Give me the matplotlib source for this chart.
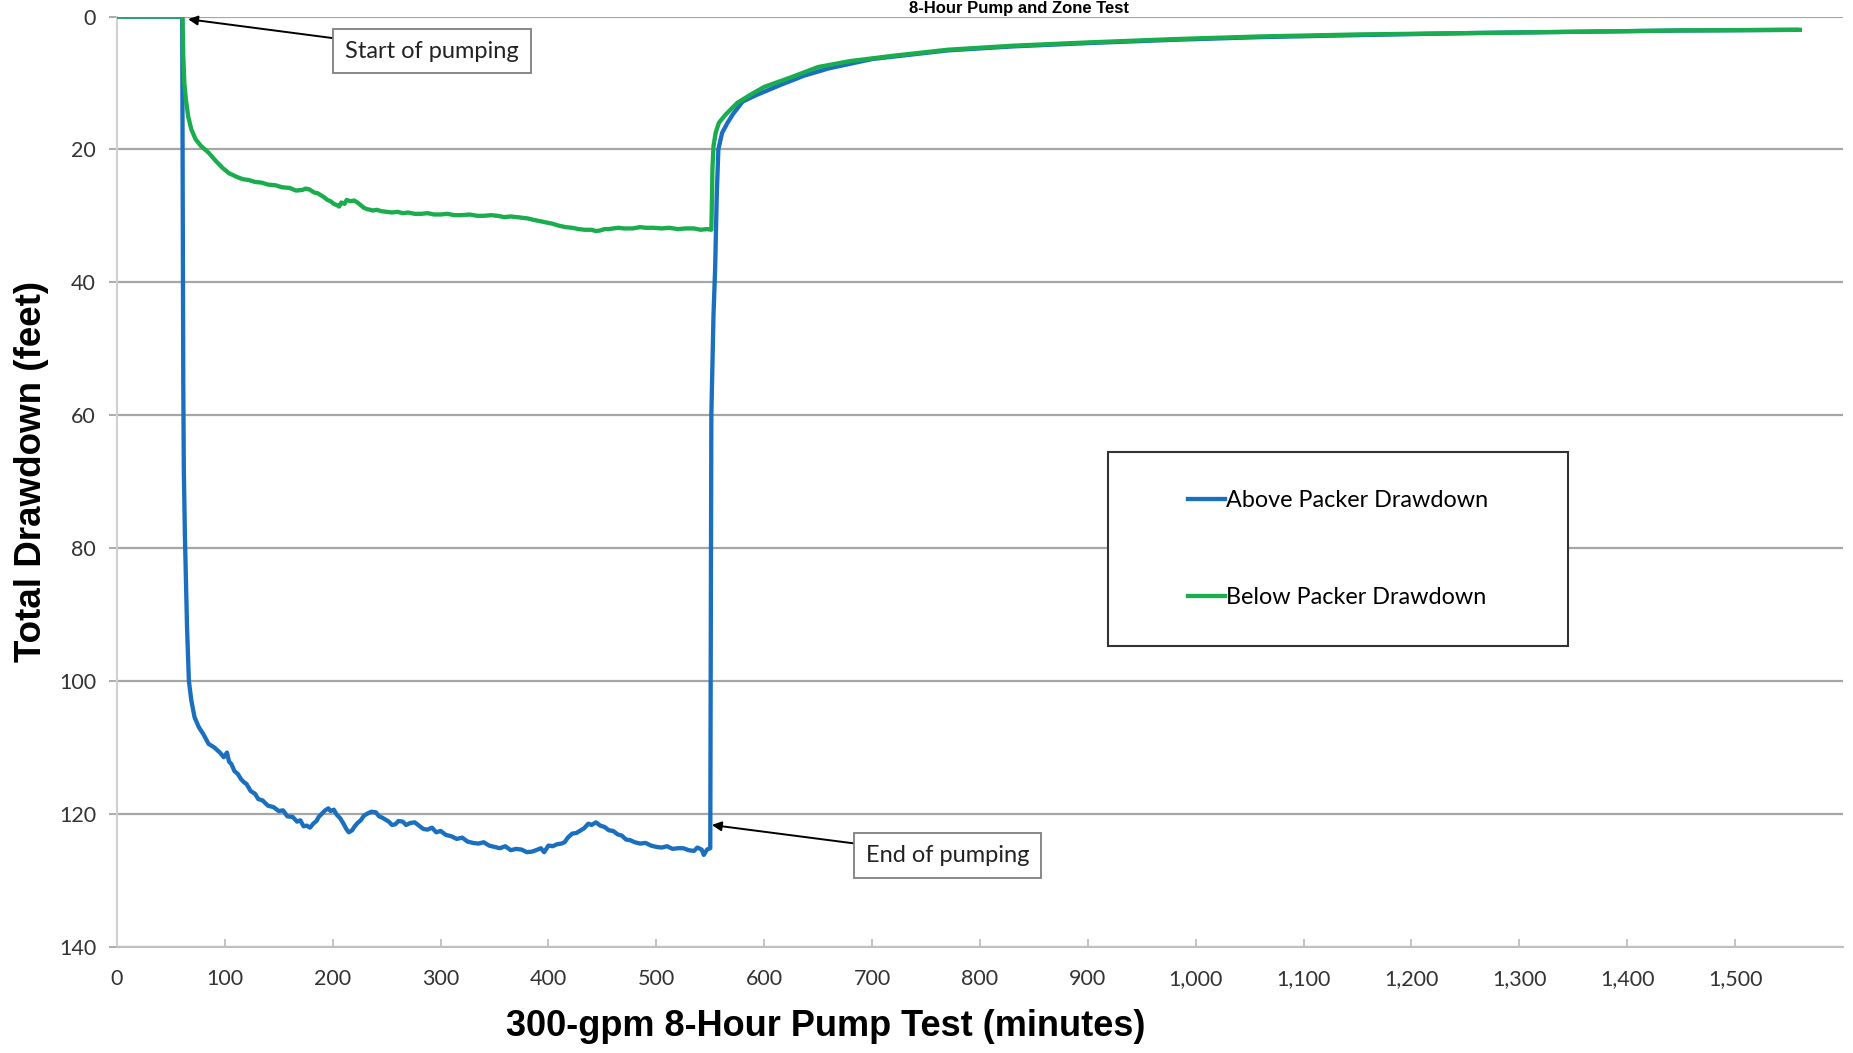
import matplotlib
matplotlib.use('Agg')
import matplotlib.pyplot as plt
from matplotlib.patches import Rectangle

# data (minutes, feet of drawdown)
above_t = [0, 60.5, 61, 61.5, 62, 63, 64, 65, 66.7, 69, 72, 76, 80, 85, 90, 95.5,
           99, 102, 104, 106, 109, 112, 115, 118, 120, 124, 128, 131, 135, 140, 145, 150,
           154, 158, 163, 167, 170, 173, 176, 179, 182, 185, 187, 190, 193, 196, 198, 201,
           204, 207, 210, 213, 215, 218, 220, 223, 226, 229, 232, 236, 240, 243, 246, 249,
           252, 255, 258, 261, 265, 268, 272, 276, 280, 284, 288, 292, 296, 300, 305, 310,
           315, 320, 325, 330, 335, 340, 345, 350, 355, 360, 365, 370, 375, 380, 385, 390,
           393, 396, 400, 404, 408, 412, 415, 418, 422, 426, 430, 433, 437, 440, 444, 448,
           452, 456, 460, 464, 468, 472, 476, 480, 485, 490, 495, 500, 505, 510, 515, 520,
           525, 530, 535, 538, 542, 544, 547, 550,
           551, 553, 554.5, 556, 557.5, 561, 566, 571, 580, 593, 615, 637, 660, 700,
           770, 830, 900, 980, 1060, 1150, 1250, 1350, 1450, 1557]
above_dd = [0, 0, 30, 55, 68, 78, 85, 92, 100, 103, 105.5, 107, 108, 109.5, 110, 110.8,
            111.5, 110.8, 112.2, 112.5, 113.6, 114, 114.8, 115.3, 115.5, 116.6, 117, 117.8, 118, 118.8, 119, 119.6,
            119.5, 120.4, 120.5, 121.2, 121, 121.9, 121.8, 122.1, 121.5, 121.1, 120.5, 120, 119.5, 119.2, 119.6, 119.4,
            120.2, 120.7, 121.5, 122.4, 122.8, 122.5, 122, 121.4, 121, 120.3, 120, 119.7, 119.8, 120.4, 120.6, 120.9,
            121.2, 121.7, 121.6, 121.1, 121.2, 121.7, 121.4, 121.3, 121.8, 122.3, 122.4, 122.1, 122.8, 122.6, 123.2, 123.4,
            123.8, 123.6, 124.2, 124.4, 124.5, 124.3, 124.8, 125, 125.2, 124.9, 125.5, 125.3, 125.4, 125.8, 125.7, 125.4,
            125.2, 125.8, 124.8, 124.9, 124.6, 124.5, 124.3, 123.6, 123, 122.9, 122.5, 122.2, 121.5, 121.7, 121.3, 121.8,
            122, 122.5, 122.6, 123.1, 123.3, 123.9, 124, 124.3, 124.5, 124.4, 124.8, 125, 125.1, 124.9, 125.3, 125.2,
            125.2, 125.5, 125.6, 125.1, 125.4, 126.2, 125.4, 125.2,
            60, 45, 38, 27, 20, 17.5, 16, 14.7, 12.8, 11.8, 10.3, 8.9, 7.8, 6.4,
            5.1, 4.5, 4.0, 3.5, 3.1, 2.8, 2.5, 2.3, 2.1, 2.0]

below_t = [0, 60.8, 61.5, 62.5, 64, 66, 69, 73, 78, 85, 92, 98,
           104, 108, 112, 117, 122, 128, 134, 140, 147, 153, 160, 166, 172, 175, 178, 180,
           183, 186, 189, 192, 195, 198, 201, 204, 206, 208, 211, 213, 216, 220, 223, 226,
           229, 232, 235, 237, 241, 245, 250, 255, 260, 265, 270, 276, 282, 288, 294, 300,
           306, 313, 320, 327, 334, 340, 347, 353, 359, 365, 371, 376, 381, 386, 392, 398,
           404, 410, 416, 422, 428, 434, 440, 444, 448, 452, 456, 460, 465, 470, 478, 485,
           490, 497, 505, 512, 520, 527, 535, 541, 547, 551,
           551.5, 552, 553, 555, 558, 564, 575, 587, 600, 624, 650, 680, 720, 770, 830,
           900, 980, 1060, 1150, 1250, 1350, 1450, 1560]
below_dd = [0, 0, 6, 10, 12.6, 15, 17, 18.5, 19.5, 20.5, 21.8, 22.8,
            23.6, 23.9, 24.2, 24.5, 24.6, 24.9, 25.0, 25.3, 25.4, 25.7, 25.8, 26.2, 26.1, 25.9, 26.0, 26.2,
            26.5, 26.6, 26.9, 27.2, 27.6, 27.8, 28.2, 28.4, 28.6, 28.0, 28.2, 27.6, 27.8, 27.7, 28.0, 28.4,
            28.8, 29.0, 29.1, 29.2, 29.1, 29.3, 29.4, 29.5, 29.4, 29.6, 29.5, 29.7, 29.7, 29.6, 29.8, 29.8,
            29.7, 29.9, 29.9, 29.8, 30.0, 30.0, 29.9, 30.0, 30.2, 30.1, 30.2, 30.3, 30.4, 30.6, 30.8, 31.0,
            31.2, 31.5, 31.7, 31.8, 32.0, 32.1, 32.1, 32.3, 32.2, 32.0, 32.0, 31.9, 31.8, 31.9, 31.9, 31.7,
            31.8, 31.8, 31.9, 31.8, 32.0, 31.9, 31.9, 32.1, 32.0, 32.1,
            28, 23, 19.5, 17.5, 16, 14.8, 13, 11.8, 10.6, 9.2, 7.6, 6.7, 5.9, 5.0, 4.4,
            3.9, 3.4, 3.0, 2.7, 2.5, 2.3, 2.1, 2.0]

x_ticks = list(range(0, 1501, 100))
y_ticks = list(range(0, 141, 20))

blue = '#1b6fbf'
green = '#1aad4e'
small_font = 'Lato'
bold_font = 'Liberation Sans'

fig = plt.figure(figsize=(18.53, 10.53), dpi=100)
ax = fig.add_axes([0.0631, 0.1011, 0.9315, 0.8832])

ax.plot(above_t, above_dd, color=blue, lw=3.1, label='Above Packer Drawdown', zorder=3)
ax.plot(below_t, below_dd, color=green, lw=3.1, label='Below Packer Drawdown', zorder=3)

ax.set_xlim(0, 1600)
ax.set_ylim(140, 0)
ax.set_xticks(x_ticks)
ax.set_xticklabels([f'{v:,}' for v in x_ticks], fontfamily=small_font, fontsize=15.5)
ax.set_yticks(y_ticks)
ax.set_yticklabels([str(v) for v in y_ticks], fontfamily=small_font, fontsize=15.5)

ax.grid(axis='y', color='#a6a6a6', lw=1.6)
ax.set_axisbelow(True)
ax.spines['top'].set_visible(False)
ax.spines['right'].set_visible(False)
ax.spines['left'].set_color('#d0d0d0')
ax.spines['left'].set_linewidth(1.5)
ax.spines['bottom'].set_color('#bfbfbf')
ax.spines['bottom'].set_linewidth(1.5)
ax.tick_params(axis='x', direction='in', length=6, width=1.3, color='#bfbfbf', pad=16, labelcolor='#333333')
ax.tick_params(axis='y', direction='out', length=6, width=1.3, color='#a6a6a6', pad=9, labelcolor='#333333')

# legend inside a fixed box
lx, ly, lw_, lh = 0.574, 0.3232, 0.2667, 0.2086
ax.add_patch(Rectangle((lx, ly), lw_, lh, transform=ax.transAxes, facecolor='white',
                       edgecolor='#333333', lw=1.5, zorder=4))
leg = ax.legend(loc='center', bbox_to_anchor=(lx + lw_ / 2, ly + lh / 2), frameon=False,
                labelspacing=3.25, handlelength=1.6, handletextpad=0.05,
                prop={'family': small_font, 'size': 16.8})
leg.set_zorder(5)

box = dict(boxstyle='square,pad=0.5', fc='white', ec='#7f7f7f', lw=1.3)
arrow = dict(arrowstyle='-|>', color='black', lw=1.4, mutation_scale=14, shrinkA=0, shrinkB=0)
ax.annotate('Start of pumping', xy=(66, 0.4), xytext=(292, 5.2), ha='center', va='center',
            fontfamily=small_font, fontsize=17, color='#222222', bbox=box, arrowprops=arrow, zorder=6)
ax.annotate('End of pumping', xy=(551.5, 121.7), xytext=(770, 126.3), ha='center', va='center',
            fontfamily=small_font, fontsize=17, color='#222222', bbox=box, arrowprops=arrow, zorder=6)

fig.text(1019 / 1853, 1 - 1 / 1053, '8-Hour Pump and Zone Test', ha='center', va='top',
         fontsize=12, fontweight='bold', fontfamily=bold_font)
fig.text(32 / 1853, 1 - 471 / 1053, 'Total Drawdown (feet)', rotation=90, ha='center', va='center',
         fontsize=26.5, fontweight='bold', fontfamily=bold_font)
fig.text(826 / 1853, 1 - 1027 / 1053, '300-gpm 8-Hour Pump Test (minutes)', ha='center', va='center',
         fontsize=26, fontweight='bold', fontfamily=bold_font)

fig.savefig('out.png', dpi=100)
